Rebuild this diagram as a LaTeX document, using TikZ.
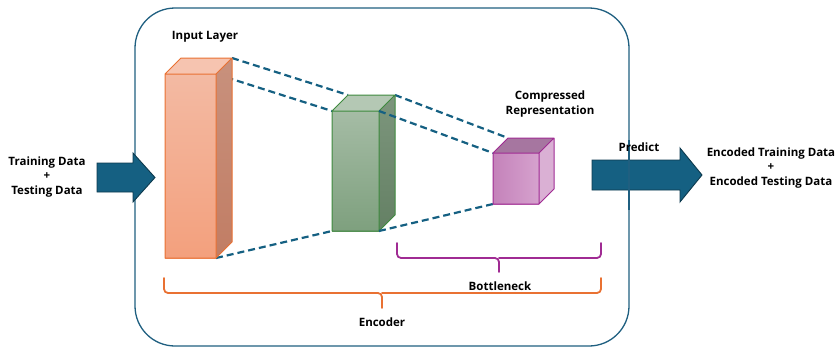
\documentclass[tikz,border=0pt]{standalone}
\usepackage{fontspec}
\setmainfont{Open Sans}
\definecolor{navy}{HTML}{156082}
\definecolor{frameblue}{HTML}{1F5F80}
\definecolor{encorange}{HTML}{E97132}
\definecolor{bnpurple}{HTML}{A02B93}
\definecolor{layergreen}{HTML}{3E8A3E}
\begin{document}
\begin{tikzpicture}[x=1pt,y=-1pt,
  lbl/.style={font=\bfseries\fontsize{11.5}{14.5}\selectfont, align=center, text=black, inner sep=0pt},
  link/.style={draw=navy, line width=2.2pt, dash pattern=on 7pt off 4pt},
  bigarrow/.style={fill=navy, draw=navy!60!black, line width=0.9pt, line join=miter},
  brace/.style={line width=1.8pt, rounded corners=4pt, line cap=round},
]
\useasboundingbox (0,0) rectangle (839,348);

% encoder frame
\draw[frameblue, line width=1.3pt, rounded corners=40pt] (135,8) rectangle (629,346);

% corner points of the three layers
\coordinate (oFTR) at (216,74);  \coordinate (oBTR) at (232,58);  \coordinate (oFBR) at (216,258);
\coordinate (gFTL) at (332,111); \coordinate (gBTL) at (348,95);  \coordinate (gFBL) at (332,231);
\coordinate (gFTR) at (379,111); \coordinate (gBTR) at (395,95);  \coordinate (gFBR) at (379,231);
\coordinate (mFTL) at (493,153); \coordinate (mBTL) at (508,138); \coordinate (mFBL) at (493,204);

% links behind the layers
\draw[link] (oBTR) -- (gBTL);
\draw[link] (oFTR) -- (gFTL);
\draw[link] (oFBR) -- (gFBL);
\draw[link] (gBTR) -- (mBTL);

% input layer (orange cuboid)
\fill[color={rgb,255:red,246;green,196;blue,176}] (165,74) -- (181,58) -- (232,58) -- (216,74) -- cycle;
\shade[top color={rgb,255:red,200;green,145;blue,125}, bottom color={rgb,255:red,193;green,125;blue,100}]
  (216,74) -- (232,58) -- (232,242) -- (216,258) -- cycle;
\shade[top color={rgb,255:red,243;green,186;blue,163}, bottom color={rgb,255:red,243;green,160;blue,125}]
  (165,74) rectangle (216,258);
\draw[encorange, line width=1pt, line join=round]
  (165,74) rectangle (216,258)
  (165,74) -- (181,58) -- (232,58) -- (216,74)
  (232,58) -- (232,242) -- (216,258);

% hidden layer (green cuboid)
\fill[color={rgb,255:red,180;green,200;blue,180}] (332,111) -- (348,95) -- (395,95) -- (379,111) -- cycle;
\shade[top color={rgb,255:red,125;green,150;blue,125}, bottom color={rgb,255:red,100;green,128;blue,100}]
  (379,111) -- (395,95) -- (395,215) -- (379,231) -- cycle;
\shade[top color={rgb,255:red,165;green,188;blue,165}, bottom color={rgb,255:red,126;green,160;blue,126}]
  (332,111) rectangle (379,231);
\draw[layergreen, line width=1pt, line join=round]
  (332,111) rectangle (379,231)
  (332,111) -- (348,95) -- (395,95) -- (379,111)
  (395,95) -- (395,215) -- (379,231);

% links in front of the hidden layer
\draw[link] (gFTR) -- (mFTL);
\draw[link] (gFBR) -- (mFBL);

% bottleneck (magenta cube)
\fill[color={rgb,255:red,166;green,118;blue,160}] (493,153) -- (508,138) -- (554,138) -- (539,153) -- cycle;
\fill[color={rgb,255:red,218;green,176;blue,212}] (539,153) -- (554,138) -- (554,189) -- (539,204) -- cycle;
\shade[left color={rgb,255:red,196;green,130;blue,186}, right color={rgb,255:red,214;green,162;blue,206}]
  (493,153) rectangle (539,204);
\draw[bnpurple, line width=1pt, line join=round]
  (493,153) rectangle (539,204)
  (493,153) -- (508,138) -- (554,138) -- (539,153)
  (554,138) -- (554,189) -- (539,204);

% labels
\node[lbl] (inlbl) at (205,37) {Input Layer};
\node[lbl] (cmplbl) at (550,104) {Compressed\\Representation};

% input and output arrows
\draw[bigarrow] (97,163) -- (133,163) -- (133,153) -- (155,177.5) -- (133,202) -- (133,192) -- (97,192) -- cycle;
\draw[bigarrow] (592,160) -- (680,160) -- (680,148) -- (702,175) -- (680,202) -- (680,190) -- (592,190) -- cycle;
\draw[frameblue, line width=1.3pt] (629,140) -- (629,210);

\node[lbl] (indata) at (47,177) {Training Data\\+\\Testing Data};
\node[lbl] (predict) at (639,147) {Predict};
\node[lbl] (outdata) at (771,168) {Encoded Training Data\\+\\Encoded Testing Data};

% braces
\draw[brace, bnpurple] (397,243) -- (397,258) -- (499,258) -- (499,272);
\draw[brace, bnpurple] (499,258) -- (601,258) -- (601,243);
\node[lbl] (bnlbl) at (500,286) {Bottleneck};

\draw[brace, encorange] (164,278) -- (164,293) -- (382,293) -- (382,308);
\draw[brace, encorange] (382,293) -- (601,293) -- (601,278);
\node[lbl] (enclbl) at (382,322) {Encoder};
\end{tikzpicture}
\end{document}
